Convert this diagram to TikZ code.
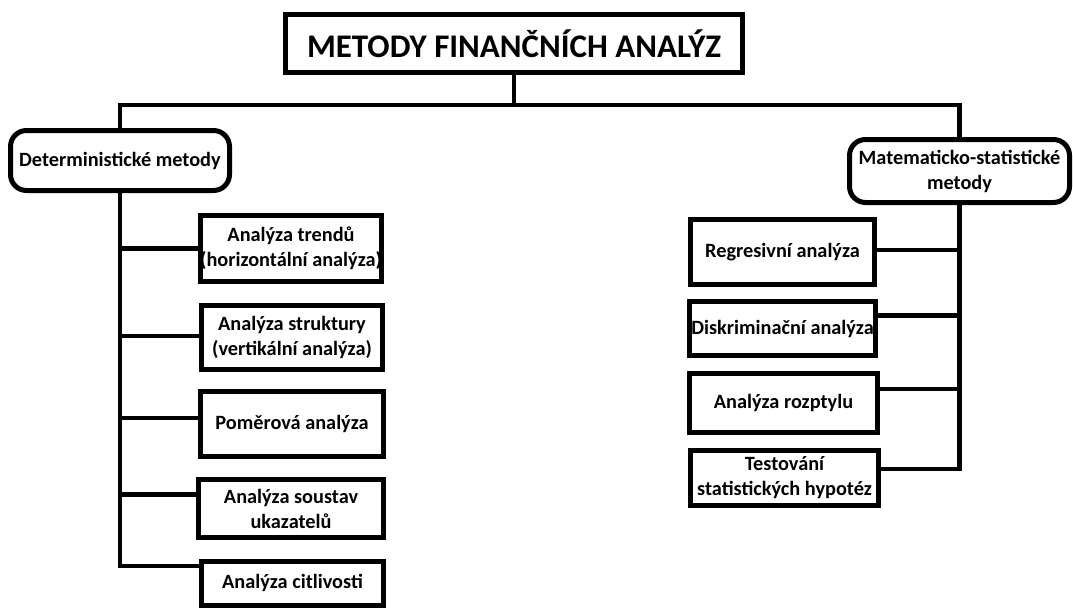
\documentclass[tikz,border=0pt]{standalone}
\usepackage{fontspec}
\setmainfont{Carlito}
\begin{document}
\begin{tikzpicture}[x=1pt,y=-1pt,line join=miter,
  box/.style={draw,line width=5pt,inner sep=0pt,align=center,font=\bfseries\fontsize{20.3}{25}\selectfont},
  rbox/.style={box,rounded corners=16pt},
  conn/.style={line width=4.5pt}]
\useasboundingbox (0,0) rectangle (1073,610);
\node[box,minimum width=457pt,minimum height=58pt,font=\bfseries\fontsize{33}{38}\selectfont] (title) at (514,43.5) {METODY FINANČNÍCH ANALÝZ};
\node[rbox,minimum width=219pt,minimum height=60pt] (det) at (120,160.5) {Deterministické metody};
\node[rbox,minimum width=220pt,minimum height=63pt] (mat) at (959.5,171) {Matematicko-statistické\\metody};
% left children
\node[box,minimum width=179pt,minimum height=66pt] (a1) at (291,248.5) {Analýza trendů\\(horizontální analýza)};
\node[box,minimum width=181pt,minimum height=64pt] (a2) at (292,337.5) {Analýza struktury\\(vertikální analýza)};
\node[box,minimum width=183pt,minimum height=65pt] (a3) at (292,424) {Poměrová analýza};
\node[box,minimum width=185pt,minimum height=58pt] (a4) at (291,508.5) {Analýza soustav\\ukazatelů};
\node[box,minimum width=182pt,minimum height=44pt] (a5) at (292.5,583) {Analýza citlivosti};
% right children
\node[box,minimum width=184pt,minimum height=65pt] (r1) at (782.5,252) {Regresivní analýza};
\node[box,minimum width=186pt,minimum height=54pt] (r2) at (782.5,328.5) {Diskriminační analýza};
\node[box,minimum width=188pt,minimum height=59pt] (r3) at (783.5,403) {Analýza rozptylu};
\node[box,minimum width=188pt,minimum height=55pt] (r4) at (784.5,478) {Testování\\statistických hypotéz};
% connectors
\draw[conn] (title.south) -- ++(0,30) -| (det.north);
\draw[conn] (title.south) -- ++(0,30) -| (mat.north);
\draw[conn] (det.south) |- (a1.west);
\draw[conn] (det.south) |- ([yshift=1.5pt]a2.west);
\draw[conn] (det.south) |- ([yshift=6pt]a3.west);
\draw[conn] (det.south) |- ([yshift=14pt]a4.west);
\draw[conn] (det.south) |- ([yshift=17pt]a5.west);
\draw[conn] (mat.south) |- ([yshift=2pt]r1.east);
\draw[conn] (mat.south) |- ([yshift=13pt]r2.east);
\draw[conn] (mat.south) |- ([yshift=14pt]r3.east);
\draw[conn] (mat.south) |- ([yshift=9pt]r4.east);
\end{tikzpicture}
\end{document}
